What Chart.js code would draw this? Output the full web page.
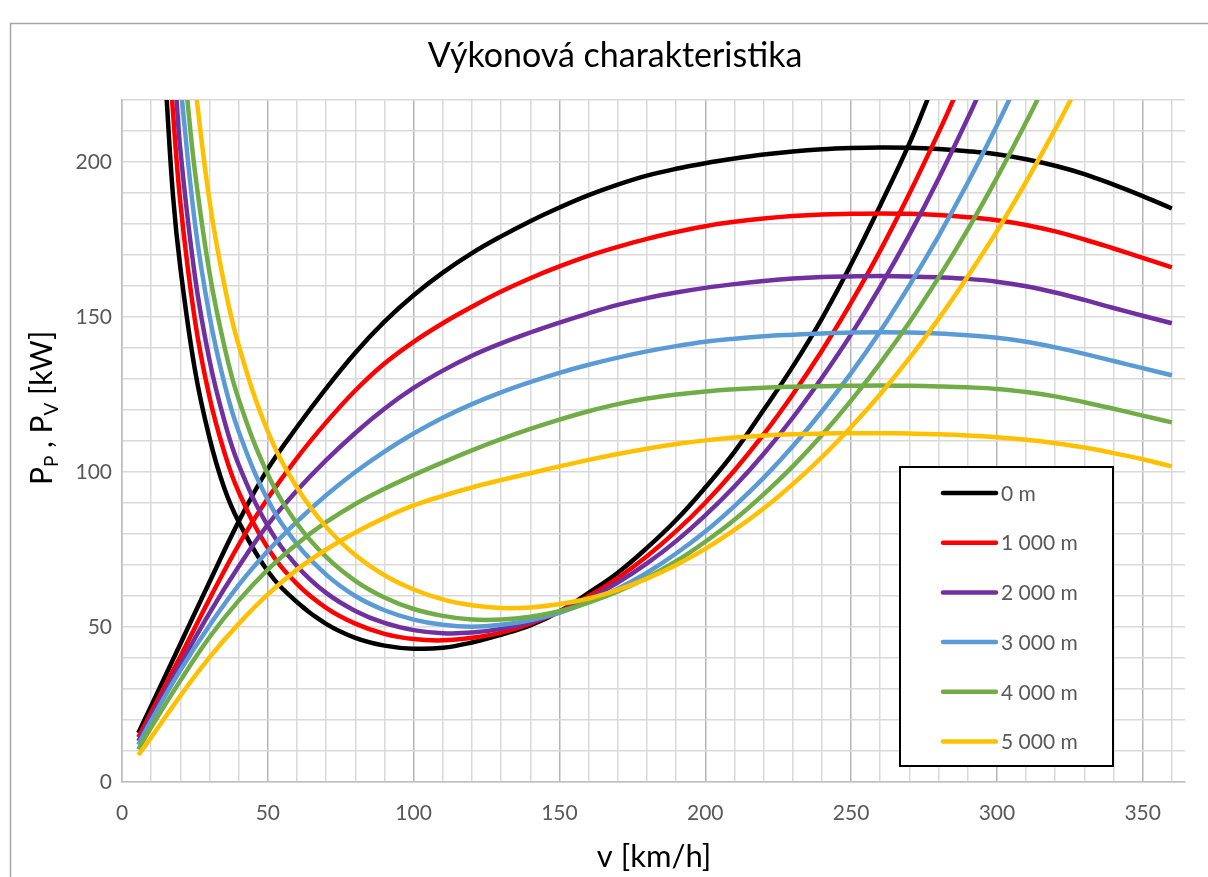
<!DOCTYPE html>
<html>
<head>
<meta charset="utf-8">
<script src="https://cdn.jsdelivr.net/npm/chart.js@4.4.1/dist/chart.umd.min.js"></script>
<style>
  html, body { margin: 0; padding: 0; background: #fff; }
  #wrap { width: 1208px; height: 877px; }
</style>
</head>
<body>
<div id="wrap"><canvas id="chart" width="1208" height="877"></canvas></div>
<script>
/* Výkonová charakteristika — P_P (available) and P_V (required) vs speed, per altitude */

const FONT = "Lato, 'Noto Sans', sans-serif";

const altitudes = ["0 m", "1 000 m", "2 000 m", "3 000 m", "4 000 m", "5 000 m"];
const colors = ["#000000", "#ff0000", "#7030a0", "#5b9bd5", "#70ad47", "#ffc000"];

// available power P_P [kW]
const speedsPP = [5.6, 10, 20, 30, 40, 50, 60, 70, 80, 90, 100, 110, 120, 130, 140, 150, 160, 170, 180,
    190, 200, 210, 220, 230, 240, 250, 260, 270, 280, 290, 300, 310, 320, 330, 340, 350, 360];
const pp0 = [15.8, 24.5, 44.5, 64.5, 84, 101, 114.5, 127, 138.5, 148.5, 157, 164.3, 170.6, 176, 180.9, 185.3, 189.3,
    192.7, 195.6, 197.8, 199.6, 201.1, 202.4, 203.4, 204.1, 204.5, 204.7, 204.6, 204.2, 203.5, 202.5, 200.9, 198.8,
    196.1, 192.7, 189, 185];
const pp1000 = [14.4, 22.5, 40.5, 59, 76.5, 91.5, 104.5, 116, 126.3, 135, 142, 148, 153.3, 158.2, 162.5, 166.3, 169.7,
    172.6, 175.2, 177.4, 179.3, 180.7, 181.8, 182.6, 183.1, 183.3, 183.4, 183.3, 182.9, 182.2, 181.2, 179.7, 177.6,
    175, 172.1, 169.1, 166];
const pp2000 = [13.2, 21, 38, 54.5, 69.5, 83, 94, 103.8, 112.6, 120.4, 127.1, 132.7, 137.5, 141.5, 145, 148.2, 151.2,
    153.9, 156.1, 157.9, 159.4, 160.6, 161.6, 162.4, 162.9, 163.1, 163.2, 163.1, 162.8, 162.3, 161.4, 159.9, 157.9,
    155.5, 152.9, 150.4, 148];
const pp3000 = [12, 19.8, 36, 50.5, 63.5, 74.5, 84, 92.5, 100, 106.6, 112.4, 117.5, 121.9, 125.7, 129, 132, 134.6,
    136.9, 138.9, 140.6, 142, 143, 143.8, 144.3, 144.7, 145, 145.1, 145, 144.7, 144.1, 143.3, 142, 140.2,
    138.1, 135.8, 133.5, 131.2];
const pp4000 = [10.5, 17.6, 32.7, 46.7, 58.5, 68.5, 76.8, 83.8, 89.7, 94.6, 99, 103.1, 107, 110.6, 113.9, 116.9, 119.6,
    121.9, 123.7, 125, 126, 126.7, 127.2, 127.5, 127.7, 127.8, 127.9, 127.8, 127.6, 127.3, 126.8, 125.8, 124.4,
    122.5, 120.4, 118.2, 116];
const pp5000 = [8.7, 14.4, 27.8, 40.2, 51, 60.5, 68.5, 75, 80.5, 85.2, 89.2, 92.3, 95, 97.4, 99.6, 101.8, 103.9,
    105.8, 107.5, 109, 110.2, 111.1, 111.8, 112.2, 112.4, 112.5, 112.5, 112.4, 112.2, 111.8, 111.2, 110.4, 109.3,
    107.9, 106.1, 104.1, 101.8];

// required power P_V [kW] (first / last points sit just above the plot top)
const speedsPV0 = [15, 17.5, 20, 25, 30, 35, 40, 50, 60, 70, 80, 90, 100, 110, 120, 130, 140, 150, 160, 170, 180,
    190, 200, 210, 220, 230, 240, 250, 260, 270, 277];
const pv0 = [225, 189, 166, 133, 111, 95, 84, 68, 58, 51, 46.5, 44, 43, 43.3, 45, 47.5, 50.5, 55, 61, 67.5, 75.5,
    84.5, 95, 106.5, 120, 134, 149.5, 167, 186, 206, 222];
const speedsPV1000 = [17, 20, 25, 30, 35, 40, 50, 60, 70, 80, 90, 100, 110, 120, 130, 140, 150, 160, 170, 180,
    190, 200, 210, 220, 230, 240, 250, 260, 270, 280, 286];
const pv1000 = [222, 187, 149, 124.2, 106.7, 93.6, 75.5, 63.9, 56.2, 51.1, 47.8, 46.1, 45.7, 46.5, 48.2, 51.1, 55,
    59.9, 65.8, 72.8, 80.9, 90.1, 100.5, 112.1, 125, 139.1, 154.6, 171.4, 189.8, 209.5, 222];
const speedsPV2000 = [18.5, 20, 25, 30, 35, 40, 50, 60, 70, 80, 90, 100, 110, 120, 130, 140, 150, 160, 170, 180,
    190, 200, 210, 220, 230, 240, 250, 260, 270, 280, 290, 295];
const pv2000 = [223, 204, 163.2, 136.1, 116.9, 102.4, 82.6, 69.7, 61, 55.2, 51.3, 49, 48, 48.2, 49.4, 51.6, 54.9,
    59.1, 64.3, 70.5, 77.7, 86, 95.3, 105.8, 117.5, 130.4, 144.4, 159.8, 176.5, 194.6, 214.1, 224.3];
const speedsPV3000 = [20, 25, 30, 35, 40, 50, 60, 70, 80, 90, 100, 110, 120, 130, 140, 150, 160, 170, 180,
    190, 200, 210, 220, 230, 240, 250, 260, 270, 280, 290, 300, 305];
const pv3000 = [225.3, 180.3, 150.4, 129, 113.1, 91, 76.7, 66.9, 60, 55.4, 52.4, 50.7, 50.1, 50.7, 52.2, 54.6, 58.1,
    62.3, 67.5, 73.7, 80.8, 89, 98.1, 108.3, 119.6, 131.9, 145.4, 160.2, 176.1, 193.3, 211.8, 221.6];
const speedsPV4000 = [22, 25, 30, 35, 40, 50, 60, 70, 80, 90, 100, 110, 120, 130, 140, 150, 160, 170, 180,
    190, 200, 210, 220, 230, 240, 250, 260, 270, 280, 290, 300, 310, 315];
const pv4000 = [223.9, 197, 164.3, 141, 123.5, 99.3, 83.4, 72.6, 64.9, 59.5, 55.8, 53.6, 52.4, 52.4, 53.3, 55.1, 57.9,
    61.5, 65.9, 71.2, 77.5, 84.6, 92.8, 101.8, 111.9, 123, 135.1, 148.3, 162.7, 178.2, 194.9, 212.8, 222.2];
const speedsPV5000 = [25, 30, 35, 40, 50, 60, 70, 80, 90, 100, 110, 120, 130, 140, 150, 160, 170, 180,
    190, 200, 210, 220, 230, 240, 250, 260, 270, 280, 290, 300, 310, 320, 326];
const pv5000 = [224.9, 187.5, 160.8, 140.9, 113.1, 95, 82.3, 73.2, 66.7, 62.1, 58.9, 57, 56.1, 56.3, 57.4, 59.2, 62,
    65.6, 70, 75.2, 81.3, 88.2, 96.1, 104.8, 114.5, 125.1, 136.7, 149.4, 163.1, 177.7, 193.6, 210.6, 221.3];

const ppSeries = [pp0, pp1000, pp2000, pp3000, pp4000, pp5000];
const pvSpeeds = [speedsPV0, speedsPV1000, speedsPV2000, speedsPV3000, speedsPV4000, speedsPV5000];
const pvSeries = [pv0, pv1000, pv2000, pv3000, pv4000, pv5000];

const xTicksMajor = [0, 50, 100, 150, 200, 250, 300, 350];
const yTicksMajor = [0, 50, 100, 150, 200];

function toPoints(xs, ys) {
    return xs.map((x, i) => ({ x: x, y: ys[i] }));
}

const datasets = [];
altitudes.forEach((alt, i) => {
    const common = {
        borderColor: colors[i],
        backgroundColor: colors[i],
        borderWidth: 4.5,
        pointRadius: 0,
        showLine: true,
        fill: false,
        tension: 0.4,
        clip: 0,
        order: -i
    };
    datasets.push(Object.assign({ label: alt, data: toPoints(speedsPP, ppSeries[i]) }, common));
    datasets.push(Object.assign({ label: alt + " P_V", data: toPoints(pvSpeeds[i], pvSeries[i]) }, common));
});

/* titles, legend box and outer frame */
const decor = {
    id: "decor",
    beforeDraw(chart) {
        const c = chart.ctx;
        c.save();
        c.fillStyle = "#fff";
        c.fillRect(0, 0, chart.width, chart.height);
        c.strokeStyle = "#a6a6a6";
        c.lineWidth = 1.5;
        c.strokeRect(10.5, 23.5, 1400, 1000);
        c.restore();
    },
    afterDraw(chart) {
        const c = chart.ctx;
        const area = chart.chartArea;
        c.save();

        // chart title
        c.fillStyle = "#000";
        c.font = "34px " + FONT;
        c.textAlign = "center";
        c.textBaseline = "middle";
        c.fillText("Výkonová charakteristika", 615, 56);

        // x axis title
        c.font = "31px " + FONT;
        c.fillText("v [km/h]", 654, 857);

        // y axis title with subscripts
        const parts = [["P", false], ["P", true], [" , ", false], ["P", false], ["V", true], [" [kW]", false]];
        const fontFor = sub => (sub ? "19px " : "30px ") + FONT;
        let total = 0;
        parts.forEach(p => { c.font = fontFor(p[1]); total += c.measureText(p[0]).width; });
        c.translate(41, 408);
        c.rotate(-Math.PI / 2);
        c.textAlign = "left";
        c.textBaseline = "alphabetic";
        let x = -total / 2;
        parts.forEach(p => {
            c.font = fontFor(p[1]);
            c.fillText(p[0], x, p[1] ? 17 : 11);
            x += c.measureText(p[0]).width;
        });
        c.setTransform(1, 0, 0, 1, 0, 0);

        // legend
        const box = { x: 900, y: 467, w: 213, h: 299 };
        c.fillStyle = "#fff";
        c.fillRect(box.x, box.y, box.w, box.h);
        c.strokeStyle = "#000";
        c.lineWidth = 2;
        c.strokeRect(box.x, box.y, box.w, box.h);
        c.font = "21px " + FONT;
        c.textAlign = "left";
        c.textBaseline = "middle";
        altitudes.forEach((alt, i) => {
            const y = 493 + i * 49.7;
            c.beginPath();
            c.moveTo(943, y);
            c.lineTo(996, y);
            c.strokeStyle = colors[i];
            c.lineWidth = 4.5;
            c.lineCap = "round";
            c.stroke();
            c.fillStyle = "#595959";
            c.fillText(alt, 1001, y + 1);
        });
        c.restore();
    }
};

new Chart(document.getElementById("chart"), {
    type: "scatter",
    data: { datasets: datasets },
    plugins: [decor],
    options: {
        responsive: false,
        animation: false,
        layout: { padding: { left: 0, right: 23, top: 100, bottom: 0 } },
        plugins: {
            legend: { display: false },
            title: { display: false },
            tooltip: { enabled: false }
        },
        scales: {
            x: {
                type: "linear",
                min: 0,
                max: 364.5,
                afterFit: s => { s.height = 95; },
                ticks: {
                    stepSize: 10,
                    includeBounds: false,
                    autoSkip: false,
                    maxRotation: 0,
                    padding: 19,
                    color: "#595959",
                    font: { family: FONT, size: 21 },
                    callback: v => (xTicksMajor.includes(v) ? v : "")
                },
                grid: {
                    drawTicks: false,
                    lineWidth: 1.5,
                    color: ctx => (ctx.tick && xTicksMajor.includes(ctx.tick.value) ? "#b8b4b4" : "#d9d9d9")
                },
                border: { color: "#bfbfbf", width: 1.5 }
            },
            y: {
                type: "linear",
                min: 0,
                max: 220,
                afterFit: s => { s.width = 122; },
                ticks: {
                    stepSize: 10,
                    autoSkip: false,
                    padding: 10,
                    color: "#595959",
                    font: { family: FONT, size: 21 },
                    callback: v => (yTicksMajor.includes(v) ? v : "")
                },
                grid: { drawTicks: false, lineWidth: 1.5, color: "#d9d9d9" },
                border: { color: "#bfbfbf", width: 1.5 }
            }
        }
    }
});
</script>
</body>
</html>
